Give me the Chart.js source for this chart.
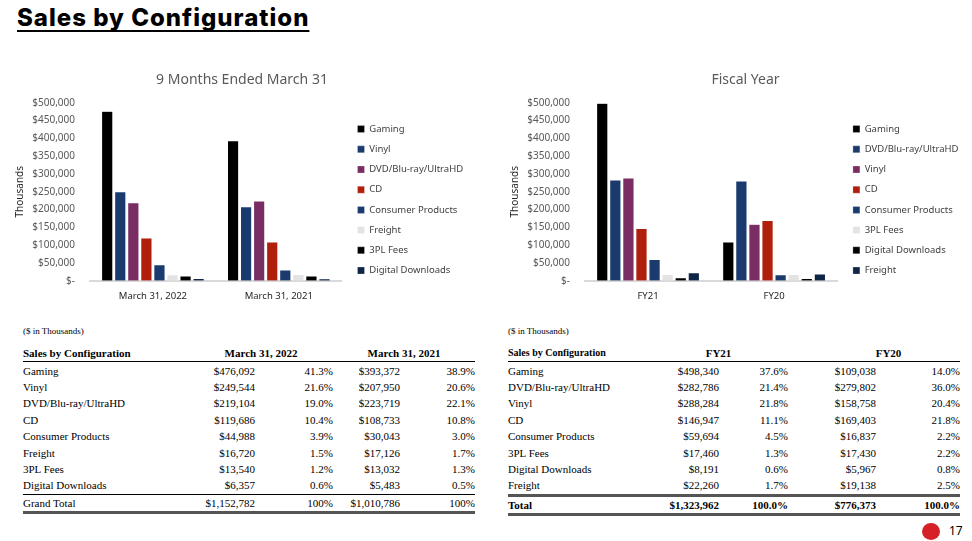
<!DOCTYPE html>
<html>
<head>
<meta charset="utf-8">
<script src="https://cdn.jsdelivr.net/npm/chart.js@4.4.0/dist/chart.umd.min.js"></script>
<style>
  body { margin: 0; width: 972px; height: 541px; background: #fff; position: relative; overflow: hidden; font-family: "Noto Sans", sans-serif; }
  #pageTitle { position: absolute; left: 17px; top: 3px; font-family: Inter, sans-serif; font-weight: 800; font-size: 24px; letter-spacing: 1px; color: #000; text-decoration: underline; text-decoration-thickness: 2px; text-underline-offset: 4px; text-decoration-skip-ink: none; }
  .chartBox { position: absolute; top: 62px; height: 240px; }
  #leftBox { left: 0; width: 484px; }
  #rightBox { left: 495px; width: 501px; }
  .note { position: absolute; top: 326px; font-family: "Liberation Serif", serif; font-size: 9px; color: #000; }
  table { position: absolute; top: 345px; border-collapse: collapse; font-family: "Liberation Serif", serif; font-size: 11px; color: #000; table-layout: fixed; }
  td, th { padding: 0; height: 16.4px; line-height: 14px; white-space: nowrap; }
  th { font-weight: bold; border-bottom: 1.5px solid #000; }
  td.num { text-align: right; }
  #leftTable tr.total td { border-top: 1px solid #000; border-bottom: 3px solid #555; }
  #rightTable tr.total td { font-weight: bold; border-top: 3px solid #555; border-bottom: 3px solid #555; }
  #rightTable th:first-child { font-size: 10px; }
  #pageNum { position: absolute; left: 949px; top: 522px; font-size: 12px; color: #000; }
  #logo { position: absolute; left: 922px; top: 523px; width: 18px; height: 17px; border-radius: 50%; background: #d62027; }
</style>
</head>
<body>
<div id="pageTitle">Sales by Configuration</div>
<div class="chartBox" id="leftBox"><canvas id="leftChart"></canvas></div>
<div class="chartBox" id="rightBox"><canvas id="rightChart"></canvas></div>
<div class="note" style="left:23px">($ in Thousands)</div>
<div class="note" style="left:508px">($ in Thousands)</div>
<table id="leftTable" style="left:23px"></table>
<table id="rightTable" style="left:508px"></table>
<div id="logo"></div>
<div id="pageNum">17</div>

<script>
// 9 months ended March 31 ($ in thousands)
const periods9m = ['March 31, 2022', 'March 31, 2021'];
const series9m = ['Gaming', 'Vinyl', 'DVD/Blu-ray/UltraHD', 'CD', 'Consumer Products', 'Freight', '3PL Fees', 'Digital Downloads'];
const gaming9m = [476092, 393372];
const vinyl9m = [249544, 207950];
const dvd9m = [219104, 223719];
const cd9m = [119686, 108733];
const consumer9m = [44988, 30043];
const freight9m = [16720, 17126];
const fees9m = [13540, 13032];
const digital9m = [6357, 5483];
const pct2022 = [41.3, 21.6, 19.0, 10.4, 3.9, 1.5, 1.2, 0.6];
const pct2021 = [38.9, 20.6, 22.1, 10.8, 3.0, 1.7, 1.3, 0.5];
const total9m = [1152782, 1010786];

// Fiscal year ($ in thousands)
const periodsFY = ['FY21', 'FY20'];
const seriesFY = ['Gaming', 'DVD/Blu-ray/UltraHD', 'Vinyl', 'CD', 'Consumer Products', '3PL Fees', 'Digital Downloads', 'Freight'];
const gamingFY = [498340, 109038];
const dvdFY = [282786, 279802];
const vinylFY = [288284, 158758];
const cdFY = [146947, 169403];
const consumerFY = [59694, 16837];
const feesFY = [17460, 17430];
const digitalFY = [8191, 5967];
const freightFY = [22260, 19138];
const pctFY21 = [37.6, 21.4, 21.8, 11.1, 4.5, 1.3, 0.6, 1.7];
const pctFY20 = [14.0, 36.0, 20.4, 21.8, 2.2, 2.2, 0.8, 2.5];
const totalFY = [1323962, 776373];

const colors = ['#000000', '#1b3b6f', '#7a2d63', '#b01f0c', '#1b3b6f', '#e3e3e3', '#000000', '#0f2547'];

function money(v) { return '$' + v.toLocaleString('en-US'); }

// spacer: invisible right-hand axis of a fixed width
function spacer(w, weight) {
  return {
    position: 'right', weight: weight, display: true,
    grid: { display: false, drawTicks: false }, border: { display: false }, ticks: { display: false },
    afterFit: function(s) { s.width = w; }
  };
}

function makeChart(id, title, labels, names, values, outerGap) {
  var ctx = document.getElementById(id).getContext('2d');
  return new Chart(ctx, {
    type: 'bar',
    data: {
      labels: labels,
      datasets: names.map(function(n, i) {
        return {
          label: n,
          data: values[i],
          backgroundColor: colors[i],
          borderColor: 'rgba(255,255,255,0.5)',
          borderWidth: 0.5,
          categoryPercentage: 0.83,
          barPercentage: 0.86
        };
      })
    },
    options: {
      responsive: true,
      maintainAspectRatio: false,
      animation: false,
      layout: { padding: 0 },
      scales: {
        x: {
          grid: { display: false, drawTicks: false },
          border: { color: '#d9d9d9', width: 2 },
          ticks: { color: '#262626', font: { family: 'Noto Sans', size: 9.5 }, padding: 10 },
          afterFit: function(s) { s.height = 21.3; }
        },
        y: {
          min: 0,
          max: 500000,
          grid: { display: false, drawTicks: false },
          border: { display: false },
          title: { display: true, text: 'Thousands', color: '#262626', font: { family: 'Noto Sans', size: 10 }, padding: 14 },
          ticks: {
            stepSize: 50000,
            color: '#595959',
            font: { family: 'Noto Sans', size: 10 },
            padding: 15,
            callback: function(v) { return v === 0 ? '$-' : money(v); }
          },
          afterFit: function(s) { s.width = 90; }
        },
        gap: spacer(5.1, 0),
        outer: spacer(outerGap, 1500)
      },
      plugins: {
        title: { display: true, text: title, color: '#595959', font: { family: 'Noto Sans', size: 14, weight: 'normal' }, padding: { top: 9.6, bottom: 14.3 } },
        legend: {
          position: 'right',
          maxWidth: 118,
          title: { display: true, text: ' ', font: { size: 1 }, padding: 17.2 },
          labels: { color: '#404040', font: { family: 'Noto Sans', size: 9.5 }, boxWidth: 7, boxHeight: 7, padding: 10.7 }
        },
        tooltip: { enabled: false }
      }
    }
  });
}

makeChart('leftChart', '9 Months Ended March 31', periods9m, series9m,
  [gaming9m, vinyl9m, dvd9m, cd9m, consumer9m, freight9m, fees9m, digital9m], 19.2);
makeChart('rightChart', 'Fiscal Year', periodsFY, seriesFY,
  [gamingFY, dvdFY, vinylFY, cdFY, consumerFY, feesFY, digitalFY, freightFY], 35.8);

function buildTable(id, heads, headPad, names, valsA, pctA, valsB, pctB, totalLabel, totals, totalPct, widths) {
  var t = document.getElementById(id);
  var html = '<colgroup>' + widths.map(function(w) { return '<col style="width:' + w + 'px">'; }).join('') + '</colgroup>';
  html += '<tr><th style="text-align:left">Sales by Configuration</th>' +
    '<th colspan="2" style="text-align:center;padding-left:' + headPad[0] + 'px">' + heads[0] + '</th>' +
    '<th colspan="2" style="text-align:center;padding-left:' + headPad[1] + 'px">' + heads[1] + '</th></tr>';
  names.forEach(function(n, i) {
    html += '<tr><td>' + n + '</td><td class="num">' + money(valsA[i]) + '</td><td class="num">' + pctA[i].toFixed(1) + '%</td><td class="num">' + money(valsB[i]) + '</td><td class="num">' + pctB[i].toFixed(1) + '%</td></tr>';
  });
  html += '<tr class="total"><td>' + totalLabel + '</td><td class="num">' + money(totals[0]) + '</td><td class="num">' + totalPct + '</td><td class="num">' + money(totals[1]) + '</td><td class="num">' + totalPct + '</td></tr>';
  t.innerHTML = html;
}

buildTable('leftTable', ['March 31, 2022', 'March 31, 2021'], [16, 0], series9m,
  [gaming9m[0], vinyl9m[0], dvd9m[0], cd9m[0], consumer9m[0], freight9m[0], fees9m[0], digital9m[0]], pct2022,
  [gaming9m[1], vinyl9m[1], dvd9m[1], cd9m[1], consumer9m[1], freight9m[1], fees9m[1], digital9m[1]], pct2021,
  'Grand Total', total9m, '100%', [150, 82, 78, 67, 75]);
buildTable('rightTable', ['FY21', 'FY20'], [11, 29], seriesFY,
  [gamingFY[0], dvdFY[0], vinylFY[0], cdFY[0], consumerFY[0], feesFY[0], digitalFY[0], freightFY[0]], pctFY21,
  [gamingFY[1], dvdFY[1], vinylFY[1], cdFY[1], consumerFY[1], feesFY[1], digitalFY[1], freightFY[1]], pctFY20,
  'Total', totalFY, '100.0%', [130, 81, 69, 88, 84]);
</script>
</body>
</html>
